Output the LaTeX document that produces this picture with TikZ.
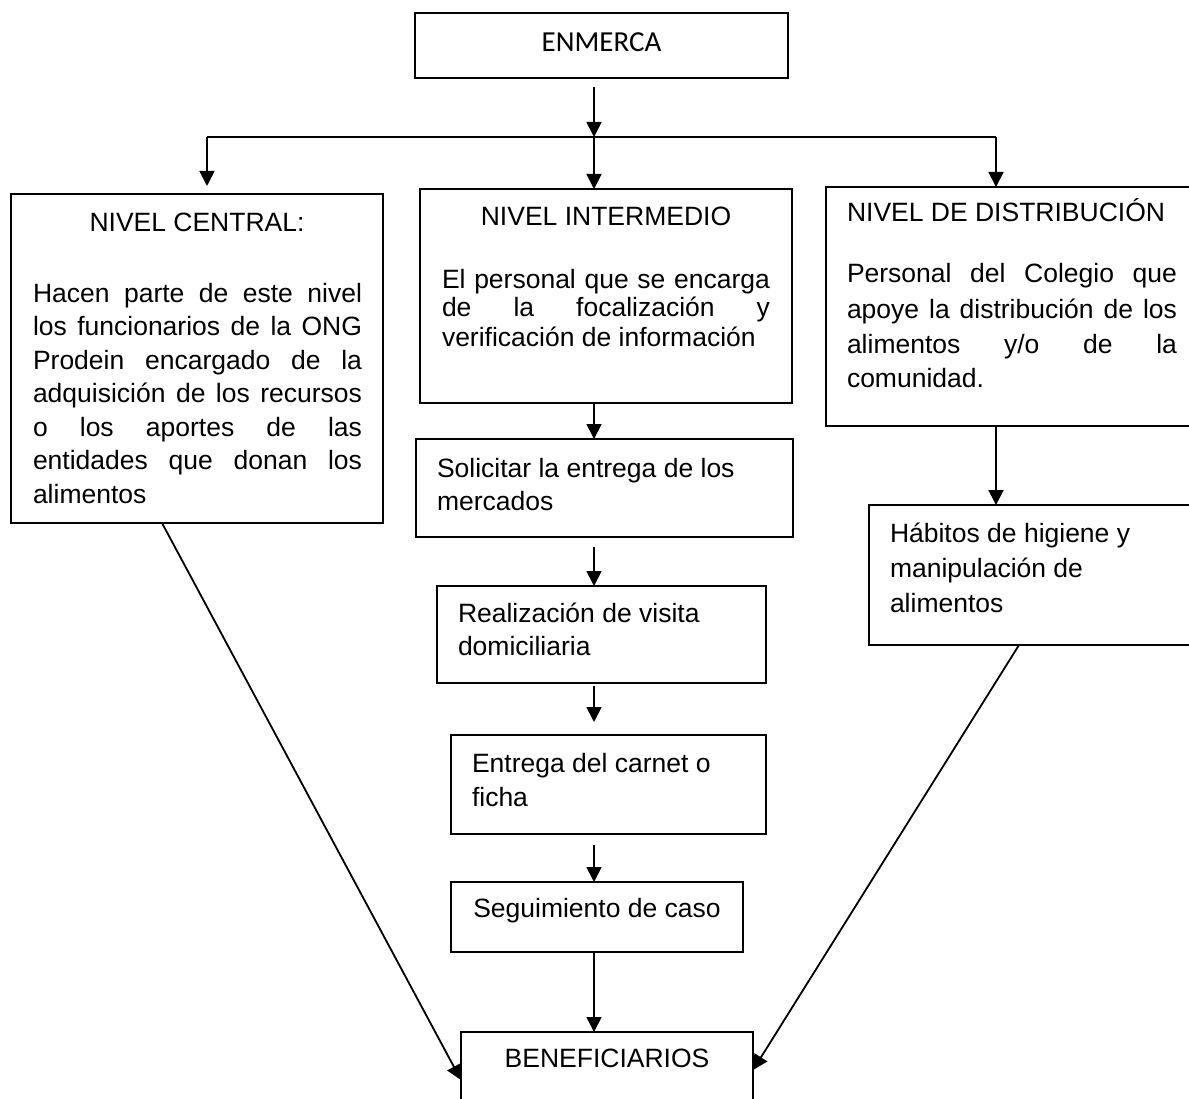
\documentclass[tikz,border=0pt]{standalone}
\usepackage{fontspec}
\setmainfont{Liberation Sans}
\newfontfamily\calfont{Carlito}
\usetikzlibrary{arrows.meta,calc}
\begin{document}
\begin{tikzpicture}[x=1pt,y=-1pt,
  box/.style={draw,line width=1.9pt,anchor=north west,inner sep=0pt,outer sep=0pt},
  txt/.style={inner sep=0pt,outer sep=0pt,align=left,anchor=north west},
  one/.style={inner sep=0pt,outer sep=0pt,anchor=base,font=\fontsize{26.5pt}{33pt}\selectfont},
  arr/.style={line width=1.8pt,-{Triangle[length=15pt,width=15pt]}},
  ln/.style={line width=1.8pt}]
\path[use as bounding box] (0,0) rectangle (1189,1099);
\clip (0,0) rectangle (1189,1099);

% boxes
\node[box,minimum width=373pt,minimum height=65pt] (enm) at (415,13) {};
\node[box,minimum width=372pt,minimum height=329pt] (central) at (11,194) {};
\node[box,minimum width=372pt,minimum height=214pt] (inter) at (420,189) {};
\node[box,minimum width=374pt,minimum height=239pt] (dist) at (826,187) {};
\node[box,minimum width=377pt,minimum height=98pt] (sol) at (416,439) {};
\node[box,minimum width=329pt,minimum height=97pt] (real) at (437,586) {};
\node[box,minimum width=315pt,minimum height=99pt] (entr) at (451,735) {};
\node[box,minimum width=292pt,minimum height=70pt] (seg) at (451,882) {};
\node[box,minimum width=292pt,minimum height=100pt] (ben) at (461,1032) {};
\node[box,minimum width=331pt,minimum height=140pt] (hab) at (869,505) {};

% texts
\node[inner sep=0pt,anchor=base,font=\calfont\fontsize{29pt}{35pt}\selectfont] (tenm) at (601.5,52) {ENMERCA};
\node[one] (tcen) at (197,232) {NIVEL CENTRAL:};
\node[txt,font=\fontsize{26.5pt}{33.5pt}\selectfont] (bcen) at (33,282) {%
\rule{0pt}{20pt}\makebox[329pt][s]{Hacen parte de este nivel}\\
\makebox[329pt][s]{los funcionarios de la ONG}\\
\makebox[329pt][s]{Prodein encargado de la}\\
\makebox[329pt][s]{adquisición de los recursos}\\
\makebox[329pt][s]{o los aportes de las}\\
\makebox[329pt][s]{entidades que donan los}\\
alimentos};
\node[one] (tint) at (606,226) {NIVEL INTERMEDIO};
\node[txt,font=\fontsize{26.5pt}{29pt}\selectfont] (bint) at (442,268) {%
\rule{0pt}{20pt}\makebox[328pt][s]{El personal que se encarga}\\
\makebox[328pt][s]{de la focalización y}\\
verificación de información};
\node[one,anchor=base west] (tdis) at (847,222) {NIVEL DE DISTRIBUCIÓN};
\node[txt,font=\fontsize{26.5pt}{35pt}\selectfont] (bdis) at (847,263) {%
\rule{0pt}{20pt}\makebox[330pt][s]{Personal del Colegio que}\\
\makebox[330pt][s]{apoye la distribución de los}\\
\makebox[330pt][s]{alimentos y/o de la}\\
comunidad.};
\node[txt,font=\fontsize{26.5pt}{33pt}\selectfont] (tsol) at (437,457) {%
\rule{0pt}{20pt}Solicitar la entrega de los\\ mercados};
\node[txt,font=\fontsize{26.5pt}{33pt}\selectfont] (treal) at (458,602) {%
\rule{0pt}{20pt}Realización de visita\\ domiciliaria};
\node[txt,font=\fontsize{26.5pt}{34pt}\selectfont] (tentr) at (472,752) {%
\rule{0pt}{20pt}Entrega del carnet o\\ ficha};
\node[one] (tseg) at (597,917) {Seguimiento de caso};
\node[one] (tben) at (607,1067) {BENEFICIARIOS};
\node[txt,font=\fontsize{26.5pt}{35pt}\selectfont] (thab) at (890,522) {%
\rule{0pt}{20pt}Hábitos de higiene y\\ manipulación de\\ alimentos};

% connectors
\coordinate (jc) at (594,137);
\coordinate (jl) at (207,137);
\coordinate (jr) at (996,137);
\draw[arr] ([yshift=-9pt]enm.south -| jc) -- (jc);
\draw[ln] (jl) -- (jr);
\draw[arr] (jl) -- ([yshift=8pt]central.north -| jl);
\draw[arr] (jc) -- (inter.north -| jc);
\draw[arr] (jr) -- (dist.north -| jr);
\draw[arr] (inter.south -| jc) -- (sol.north -| jc);
\draw[arr] ([yshift=-10pt]sol.south -| jc) -- (real.north -| jc);
\draw[arr] ([yshift=-3pt]real.south -| jc) -- ([yshift=13pt]entr.north -| jc);
\draw[arr] ([yshift=-11pt]entr.south -| jc) -- (seg.north -| jc);
\draw[arr] (seg.south -| jc) -- (ben.north -| jc);
\draw[arr] (dist.south -| jr) -- (hab.north -| jr);
\draw[arr] ($(central.south west)+(151,0)$) -- ($(ben.north west)+(0,48)$);
\draw[arr] ($(hab.south west)+(150,0)$) -- ($(ben.north east)+(0,38)$);
\end{tikzpicture}
\end{document}
